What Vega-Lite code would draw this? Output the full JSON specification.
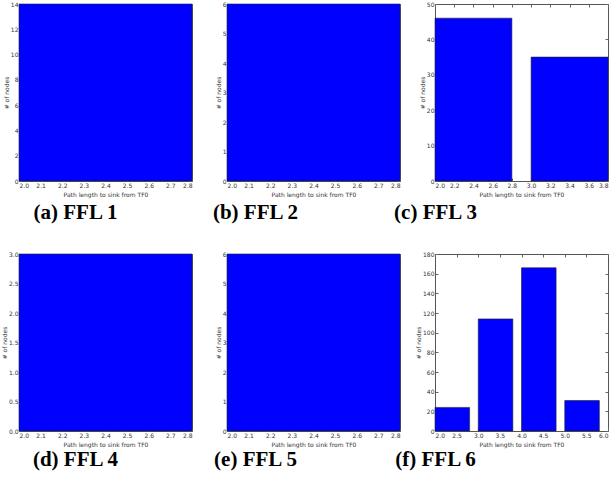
{
  "$schema": "https://vega.github.io/schema/vega-lite/v6.json",
  "padding": {"left": 0, "top": 0, "right": 0, "bottom": 0},
  "background": "white",
  "datasets": {
    "bars": [
      {"panel": "a", "x0": 2.0, "x1": 2.8, "count": 14},
      {"panel": "b", "x0": 2.0, "x1": 2.8, "count": 6},
      {"panel": "c", "x0": 2.0, "x1": 2.8, "count": 46},
      {"panel": "c", "x0": 3.0, "x1": 3.8, "count": 35},
      {"panel": "d", "x0": 2.0, "x1": 2.8, "count": 3},
      {"panel": "e", "x0": 2.0, "x1": 2.8, "count": 6},
      {"panel": "f", "x0": 2.0, "x1": 2.8, "count": 24},
      {"panel": "f", "x0": 3.0, "x1": 3.8, "count": 114},
      {"panel": "f", "x0": 4.0, "x1": 4.8, "count": 166},
      {"panel": "f", "x0": 5.0, "x1": 5.8, "count": 31}
    ]
  },
  "config": {
    "view": {"stroke": "#555", "strokeWidth": 1},
    "bar": {"color": "#0000ff", "stroke": "#222", "strokeWidth": 0.6},
    "axis": {
      "grid": false,
      "domain": false,
      "labelFont": "DejaVu Sans",
      "labelFontSize": 6,
      "labelColor": "#333",
      "titleFont": "DejaVu Sans",
      "titleFontSize": 6,
      "titleFontWeight": "normal",
      "titleColor": "#333",
      "tickSize": -3,
      "tickColor": "#666",
      "labelPadding": 4,
      "titlePadding": 1
    },
    "axisX": {"titlePadding": 3},
    "title": {"font": "Liberation Serif", "fontSize": 21, "fontWeight": "bold", "color": "black", "orient": "bottom", "anchor": "middle", "offset": 5}
  },
  "columns": 3,
  "bounds": "flush",
  "align": "all",
  "spacing": {"row": 73, "column": 35},
  "concat": [
    {
      "width": 173, "height": 177,
      "data": {"name": "bars"},
      "transform": [{"filter": "datum.panel === 'a'"}],
      "title": {"text": "(a)  FFL 1", "dx": -30},
      "layer": [
        {
          "mark": "bar",
          "encoding": {
            "x": {"field": "x0", "type": "quantitative", "scale": {"domain": [2.0, 2.8], "nice": false, "zero": false},
                  "axis": {"values": [2.0, 2.1, 2.2, 2.3, 2.4, 2.5, 2.6, 2.7, 2.8], "format": ".1f", "title": "Path length to sink from TF0"}},
            "x2": {"field": "x1"},
            "y": {"field": "count", "type": "quantitative", "scale": {"domain": [0, 14], "nice": false},
                  "axis": {"values": [0, 2, 4, 6, 8, 10, 12, 14], "format": "d", "title": "# of nodes"}},
            "y2": {"datum": 0}
          }
        },
        {
          "mark": {"type": "bar", "opacity": 0},
          "encoding": {
            "x": {"field": "x0", "type": "quantitative", "axis": {"orient": "top", "labels": false, "title": null, "values": [2.0, 2.1, 2.2, 2.3, 2.4, 2.5, 2.6, 2.7, 2.8]}},
            "x2": {"field": "x1"},
            "y": {"field": "count", "type": "quantitative", "axis": {"orient": "right", "labels": false, "title": null, "values": [0, 2, 4, 6, 8, 10, 12, 14]}},
            "y2": {"datum": 0}
          }
        }
      ],
      "resolve": {"axis": {"x": "independent", "y": "independent"}}
    },
    {
      "width": 173, "height": 177,
      "data": {"name": "bars"},
      "transform": [{"filter": "datum.panel === 'b'"}],
      "title": {"text": "(b)  FFL 2", "dx": -58},
      "layer": [
        {
          "mark": "bar",
          "encoding": {
            "x": {"field": "x0", "type": "quantitative", "scale": {"domain": [2.0, 2.8], "nice": false, "zero": false},
                  "axis": {"values": [2.0, 2.1, 2.2, 2.3, 2.4, 2.5, 2.6, 2.7, 2.8], "format": ".1f", "title": "Path length to sink from TF0"}},
            "x2": {"field": "x1"},
            "y": {"field": "count", "type": "quantitative", "scale": {"domain": [0, 6], "nice": false},
                  "axis": {"values": [0, 1, 2, 3, 4, 5, 6], "format": "d", "title": "# of nodes"}},
            "y2": {"datum": 0}
          }
        },
        {
          "mark": {"type": "bar", "opacity": 0},
          "encoding": {
            "x": {"field": "x0", "type": "quantitative", "axis": {"orient": "top", "labels": false, "title": null, "values": [2.0, 2.1, 2.2, 2.3, 2.4, 2.5, 2.6, 2.7, 2.8]}},
            "x2": {"field": "x1"},
            "y": {"field": "count", "type": "quantitative", "axis": {"orient": "right", "labels": false, "title": null, "values": [0, 1, 2, 3, 4, 5, 6]}},
            "y2": {"datum": 0}
          }
        }
      ],
      "resolve": {"axis": {"x": "independent", "y": "independent"}}
    },
    {
      "width": 173, "height": 177,
      "data": {"name": "bars"},
      "transform": [{"filter": "datum.panel === 'c'"}],
      "title": {"text": "(c)  FFL 3", "dx": -86},
      "layer": [
        {
          "mark": "bar",
          "encoding": {
            "x": {"field": "x0", "type": "quantitative", "scale": {"domain": [2.0, 3.8], "nice": false, "zero": false},
                  "axis": {"values": [2.0, 2.2, 2.4, 2.6, 2.8, 3.0, 3.2, 3.4, 3.6, 3.8], "format": ".1f", "title": "Path length to sink from TF0"}},
            "x2": {"field": "x1"},
            "y": {"field": "count", "type": "quantitative", "scale": {"domain": [0, 50], "nice": false},
                  "axis": {"values": [0, 10, 20, 30, 40, 50], "format": "d", "title": "# of nodes"}},
            "y2": {"datum": 0}
          }
        },
        {
          "mark": {"type": "bar", "opacity": 0},
          "encoding": {
            "x": {"field": "x0", "type": "quantitative", "axis": {"orient": "top", "labels": false, "title": null, "values": [2.0, 2.2, 2.4, 2.6, 2.8, 3.0, 3.2, 3.4, 3.6, 3.8]}},
            "x2": {"field": "x1"},
            "y": {"field": "count", "type": "quantitative", "axis": {"orient": "right", "labels": false, "title": null, "values": [0, 10, 20, 30, 40, 50]}},
            "y2": {"datum": 0}
          }
        }
      ],
      "resolve": {"axis": {"x": "independent", "y": "independent"}}
    },
    {
      "width": 173, "height": 177,
      "data": {"name": "bars"},
      "transform": [{"filter": "datum.panel === 'd'"}],
      "title": {"text": "(d)  FFL 4", "dx": -30, "offset": 2},
      "layer": [
        {
          "mark": "bar",
          "encoding": {
            "x": {"field": "x0", "type": "quantitative", "scale": {"domain": [2.0, 2.8], "nice": false, "zero": false},
                  "axis": {"values": [2.0, 2.1, 2.2, 2.3, 2.4, 2.5, 2.6, 2.7, 2.8], "format": ".1f", "title": "Path length to sink from TF0"}},
            "x2": {"field": "x1"},
            "y": {"field": "count", "type": "quantitative", "scale": {"domain": [0, 3], "nice": false},
                  "axis": {"values": [0, 0.5, 1, 1.5, 2, 2.5, 3], "format": ".1f", "title": "# of nodes"}},
            "y2": {"datum": 0}
          }
        },
        {
          "mark": {"type": "bar", "opacity": 0},
          "encoding": {
            "x": {"field": "x0", "type": "quantitative", "axis": {"orient": "top", "labels": false, "title": null, "values": [2.0, 2.1, 2.2, 2.3, 2.4, 2.5, 2.6, 2.7, 2.8]}},
            "x2": {"field": "x1"},
            "y": {"field": "count", "type": "quantitative", "axis": {"orient": "right", "labels": false, "title": null, "values": [0, 0.5, 1, 1.5, 2, 2.5, 3]}},
            "y2": {"datum": 0}
          }
        }
      ],
      "resolve": {"axis": {"x": "independent", "y": "independent"}}
    },
    {
      "width": 173, "height": 177,
      "data": {"name": "bars"},
      "transform": [{"filter": "datum.panel === 'e'"}],
      "title": {"text": "(e)  FFL 5", "dx": -58, "offset": 2},
      "layer": [
        {
          "mark": "bar",
          "encoding": {
            "x": {"field": "x0", "type": "quantitative", "scale": {"domain": [2.0, 2.8], "nice": false, "zero": false},
                  "axis": {"values": [2.0, 2.1, 2.2, 2.3, 2.4, 2.5, 2.6, 2.7, 2.8], "format": ".1f", "title": "Path length to sink from TF0"}},
            "x2": {"field": "x1"},
            "y": {"field": "count", "type": "quantitative", "scale": {"domain": [0, 6], "nice": false},
                  "axis": {"values": [0, 1, 2, 3, 4, 5, 6], "format": "d", "title": "# of nodes"}},
            "y2": {"datum": 0}
          }
        },
        {
          "mark": {"type": "bar", "opacity": 0},
          "encoding": {
            "x": {"field": "x0", "type": "quantitative", "axis": {"orient": "top", "labels": false, "title": null, "values": [2.0, 2.1, 2.2, 2.3, 2.4, 2.5, 2.6, 2.7, 2.8]}},
            "x2": {"field": "x1"},
            "y": {"field": "count", "type": "quantitative", "axis": {"orient": "right", "labels": false, "title": null, "values": [0, 1, 2, 3, 4, 5, 6]}},
            "y2": {"datum": 0}
          }
        }
      ],
      "resolve": {"axis": {"x": "independent", "y": "independent"}}
    },
    {
      "width": 173, "height": 177,
      "data": {"name": "bars"},
      "transform": [{"filter": "datum.panel === 'f'"}],
      "title": {"text": "(f)  FFL 6", "dx": -86, "offset": 2},
      "layer": [
        {
          "mark": "bar",
          "encoding": {
            "x": {"field": "x0", "type": "quantitative", "scale": {"domain": [2.0, 6.0], "nice": false, "zero": false},
                  "axis": {"values": [2.0, 2.5, 3.0, 3.5, 4.0, 4.5, 5.0, 5.5, 6.0], "format": ".1f", "title": "Path length to sink from TF0"}},
            "x2": {"field": "x1"},
            "y": {"field": "count", "type": "quantitative", "scale": {"domain": [0, 180], "nice": false},
                  "axis": {"values": [0, 20, 40, 60, 80, 100, 120, 140, 160, 180], "format": "d", "title": "# of nodes"}},
            "y2": {"datum": 0}
          }
        },
        {
          "mark": {"type": "bar", "opacity": 0},
          "encoding": {
            "x": {"field": "x0", "type": "quantitative", "axis": {"orient": "top", "labels": false, "title": null, "values": [2.0, 2.5, 3.0, 3.5, 4.0, 4.5, 5.0, 5.5, 6.0]}},
            "x2": {"field": "x1"},
            "y": {"field": "count", "type": "quantitative", "axis": {"orient": "right", "labels": false, "title": null, "values": [0, 20, 40, 60, 80, 100, 120, 140, 160, 180]}},
            "y2": {"datum": 0}
          }
        }
      ],
      "resolve": {"axis": {"x": "independent", "y": "independent"}}
    }
  ]
}
